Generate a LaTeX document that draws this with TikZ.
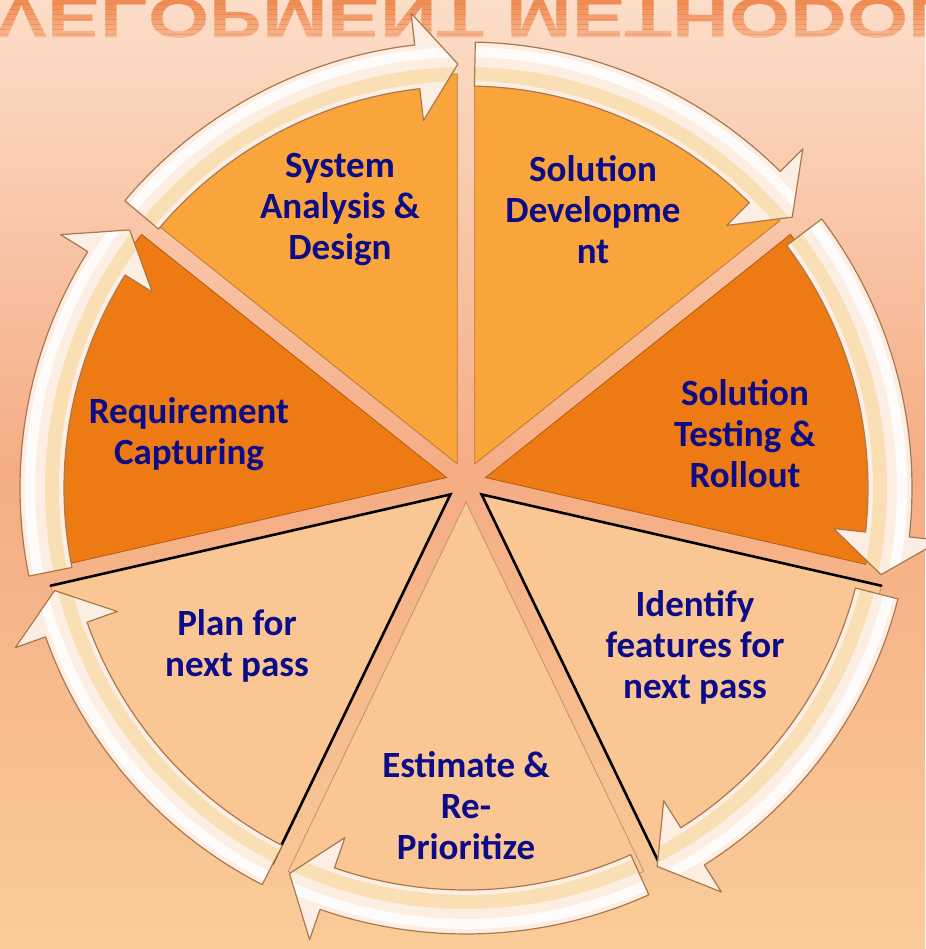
\documentclass[tikz,border=0pt]{standalone}
\usepackage{fontspec}
\newfontfamily\labelfont{Carlito}
\newfontfamily\titlefont{Liberation Sans}
\usetikzlibrary{calc}

\definecolor{bgtop}{HTML}{FCDDC8}
\definecolor{bgmid}{HTML}{F5AC84}
\definecolor{bgbot}{HTML}{F9CC98}
\definecolor{lightorange}{HTML}{FAA43C}
\definecolor{darkorange}{HTML}{EE7A14}
\definecolor{peach}{HTML}{FAC794}
\definecolor{navytext}{HTML}{0C0C88}
\definecolor{ringcream}{HTML}{FDEEE4}
\definecolor{ringgold}{HTML}{F9D9A2}
\definecolor{ringedge}{HTML}{A8784E}
\definecolor{titleorange}{HTML}{EE8448}

% curved arrow of the ring: #1 tail angle, #2 tip angle
\newcommand{\ringarrow}[2]{%
  \def\ringpath{(#1:446) arc[start angle=#1, end angle=#2+5.5, radius=446]
    -- ({#2+5.5}:478) -- (#2:424) -- ({#2+5.5}:370) -- ({#2+5.5}:402)
    arc[start angle=#2+5.5, end angle=#1, radius=402] -- cycle}%
  \fill[ringbody] \ringpath;
  \begin{scope}
    \clip \ringpath;
    \draw[ringglow] (#1:414) arc[start angle=#1, end angle=#2, radius=414];
    \draw[ringshine] (#1:436) arc[start angle=#1, end angle=#2, radius=436];
  \end{scope}
  \draw[ringrim] \ringpath;
}

\begin{document}
\begin{tikzpicture}[x=1pt,y=1pt,
  sector/.style={fill=#1, draw=#1!75!black, line width=0.8},
  blackedge/.style={draw=black, line width=2.6, line cap=round},
  ringbody/.style={fill=ringcream},
  ringglow/.style={draw=ringgold, line width=14, opacity=0.7},
  ringshine/.style={draw=white, line width=10, opacity=0.85},
  ringrim/.style={draw=ringedge, line width=1.2, line join=round},
  steplabel/.style={align=center, text=navytext, inner sep=0,
    font=\labelfont\bfseries\fontsize{37}{41}\selectfont},
  titlerefl/.style={anchor=base west, inner sep=0, text=titleorange,
    font=\titlefont\bfseries\fontsize{57}{57}\selectfont, xscale=1.38, yscale=-1}]

\useasboundingbox (0,0) rectangle (925,949);
\fill[top color=bgtop, bottom color=bgbot, middle color=bgmid] (0,0) rectangle (925,949);

% faded mirror of the title
\foreach \i in {0,...,8} {
  \begin{scope}
    \clip (0,{949-5*\i}) rectangle (925,{944-5*\i});
    \node[titlerefl, text opacity={0.9-0.07*\i}] (title\i) at (-114,950) {DEVELOPMENT METHODOLOGY};
  \end{scope}
}

% pie
\begin{scope}[shift={(466,467)}]
\fill[sector=lightorange] (115.71:20) -- ++(90:390) arc[start angle=90, end angle=141.43, radius=390] -- cycle;
\fill[sector=lightorange] (64.29:20) -- ++(38.57:390) arc[start angle=38.57, end angle=90, radius=390] -- cycle;
\fill[sector=darkorange] (12.86:20) -- ++(-12.86:390) arc[start angle=-12.86, end angle=38.57, radius=390] -- cycle;
\fill[sector=peach] (-38.57:20) -- ++(-64.29:410) arc[start angle=-64.29, end angle=-12.86, radius=410] -- cycle;
\fill[sector=peach] (-90:20) -- ++(-115.71:410) arc[start angle=-115.71, end angle=-64.29, radius=410] -- cycle;
\fill[sector=peach] (-141.43:20) -- ++(-167.14:410) arc[start angle=-167.14, end angle=-115.71, radius=410] -- cycle;
\fill[sector=darkorange] (167.14:20) -- ++(141.43:390) arc[start angle=141.43, end angle=192.86, radius=390] -- cycle;

\draw[blackedge] (-141.43:20) ++(-167.14:410) -- (-141.43:20) -- ++(-115.71:410);
\draw[blackedge] (-38.57:20) ++(-12.86:410) -- (-38.57:20) -- ++(-64.29:410);
\end{scope}

% arrows round the pie
\begin{scope}[shift={(466,461)}]
\ringarrow{139.9}{91.1}
\ringarrow{88.8}{39.7}
\ringarrow{37.1}{-11.8}
\ringarrow{-14.4}{-63.2}
\ringarrow{-65.8}{-114.6}
\ringarrow{-117.2}{-166.0}
\ringarrow{191.4}{142.5}
\end{scope}

\node[steplabel] (sysdes) at (340,739) {System\\Analysis \&\\Design};
\node[steplabel] (soldev) at (593,739) {Solution\\Developme\\nt};
\node[steplabel] (soltest) at (745,515) {Solution\\Testing \&\\Rollout};
\node[steplabel] (identify) at (695,302) {Identify\\features for\\next pass};
\node[steplabel] (estimate) at (466,143) {Estimate \&\\Re-\\Prioritize};
\node[steplabel] (plan) at (237,303) {Plan for\\next pass};
\node[steplabel] (require) at (189,515) {Requirement\\Capturing};
\end{tikzpicture}
\end{document}
